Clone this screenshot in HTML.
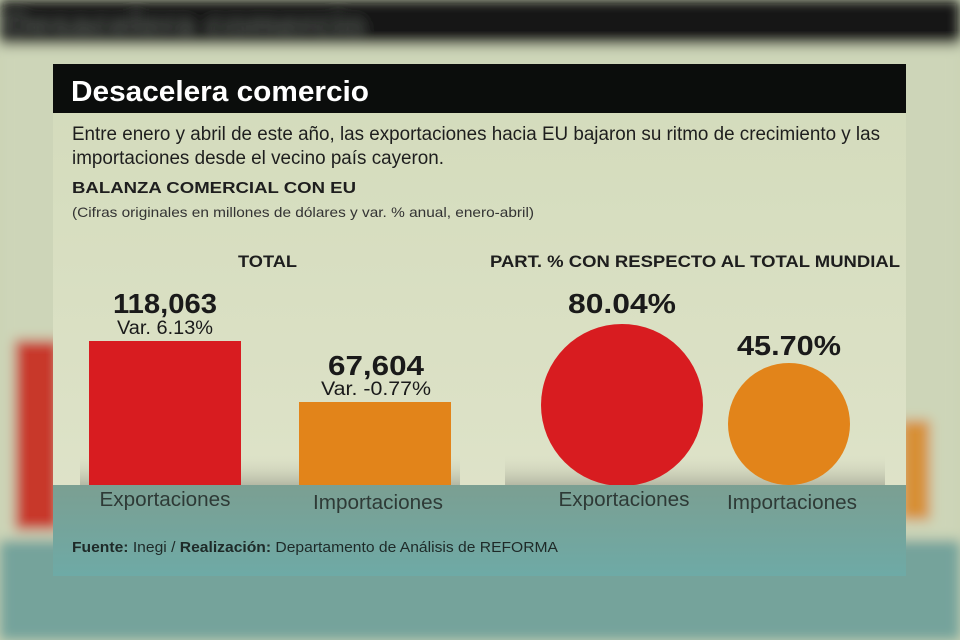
<!DOCTYPE html>
<html><head><meta charset="utf-8"><style>
html,body{margin:0;padding:0;width:960px;height:640px;overflow:hidden;background:#c9d2b4}
svg{position:absolute;left:0;top:0;overflow:hidden;display:block}
text{font-family:"Liberation Sans",sans-serif}
</style></head><body>
<svg width="960" height="640" viewBox="0 0 960 640">
<defs>
<filter id="b" x="0" y="0" width="960" height="640" filterUnits="userSpaceOnUse"><feGaussianBlur stdDeviation="6" edgeMode="duplicate"/></filter>
<linearGradient id="g" x1="0" y1="0" x2="0" y2="1">
<stop offset="0" stop-color="#d3dbbb"/><stop offset="1" stop-color="#e0e4cb"/>
</linearGradient>
<linearGradient id="t" x1="0" y1="0" x2="0" y2="1">
<stop offset="0" stop-color="#7b9f92"/><stop offset="1" stop-color="#6eaaa6"/>
</linearGradient>
<linearGradient id="s" x1="0" y1="0" x2="0" y2="1">
<stop offset="0" stop-color="#d8dcc2" stop-opacity="0"/><stop offset="1" stop-color="#b4b8a4"/>
</linearGradient>
</defs>
<g filter="url(#b)">
<rect x="0" y="0" width="960" height="640" fill="#cdd5b8"/>
<rect x="0" y="0" width="960" height="45" fill="#141816"/>
<text x="5" y="38" font-size="36" font-weight="bold" fill="#4a4e48">Desacelera comercio</text>
<rect x="0" y="540" width="960" height="100" fill="#74a39b"/>
<rect x="15" y="340" width="45" height="190" fill="#c8382a"/>
<rect x="900" y="420" width="30" height="100" fill="#d79035"/>
</g>
<rect x="53" y="64" width="853" height="512" fill="url(#g)"/>
<rect x="53" y="64" width="853" height="49" fill="#0b0d0c"/>
<text x="71" y="101" font-size="29" font-weight="bold" fill="#fff" textLength="298" lengthAdjust="spacingAndGlyphs">Desacelera comercio</text>
<text x="72" y="140" font-size="19" fill="#1e1e1e" textLength="808" lengthAdjust="spacingAndGlyphs">Entre enero y abril de este año, las exportaciones hacia EU bajaron su ritmo de crecimiento y las</text>
<text x="72" y="164" font-size="19" fill="#1e1e1e" textLength="372" lengthAdjust="spacingAndGlyphs">importaciones desde el vecino país cayeron.</text>
<text x="72" y="193" font-size="16" font-weight="bold" fill="#1e1e1e" textLength="284" lengthAdjust="spacingAndGlyphs">BALANZA COMERCIAL CON EU</text>
<text x="72" y="217" font-size="14" fill="#333" textLength="462" lengthAdjust="spacingAndGlyphs">(Cifras originales en millones de dólares y var. % anual, enero-abril)</text>
<text x="238" y="267" font-size="17" font-weight="bold" fill="#1e1e1e" textLength="59" lengthAdjust="spacingAndGlyphs">TOTAL</text>
<text x="490" y="267" font-size="17" font-weight="bold" fill="#1e1e1e" textLength="410" lengthAdjust="spacingAndGlyphs">PART. % CON RESPECTO AL TOTAL MUNDIAL</text>
<rect x="80" y="455" width="380" height="30" fill="url(#s)"/>
<rect x="505" y="455" width="380" height="30" fill="url(#s)"/>
<rect x="89" y="341" width="152" height="144" fill="#d81c20"/>
<rect x="299" y="402" width="152" height="83" fill="#e2841a"/>
<circle cx="622" cy="405" r="81" fill="#d81c20"/>
<circle cx="789" cy="424" r="61" fill="#e2841a"/>
<rect x="53" y="485" width="853" height="91" fill="url(#t)"/>
<g font-weight="bold" fill="#1a1a1a" text-anchor="middle">
<text x="165" y="313" font-size="28" textLength="104" lengthAdjust="spacingAndGlyphs">118,063</text>
<text x="376" y="375" font-size="28" textLength="96" lengthAdjust="spacingAndGlyphs">67,604</text>
<text x="622" y="313" font-size="28" textLength="108" lengthAdjust="spacingAndGlyphs">80.04%</text>
<text x="789" y="355" font-size="28" textLength="104" lengthAdjust="spacingAndGlyphs">45.70%</text>
</g>
<g fill="#1a1a1a" text-anchor="middle" font-size="19">
<text x="165" y="334" textLength="96" lengthAdjust="spacingAndGlyphs">Var. 6.13%</text>
<text x="376" y="395" textLength="110" lengthAdjust="spacingAndGlyphs">Var. -0.77%</text>
</g>
<g fill="#2e3a36" text-anchor="middle" font-size="20">
<text x="165" y="506" textLength="131" lengthAdjust="spacingAndGlyphs">Exportaciones</text>
<text x="378" y="509" textLength="130" lengthAdjust="spacingAndGlyphs">Importaciones</text>
<text x="624" y="506" textLength="131" lengthAdjust="spacingAndGlyphs">Exportaciones</text>
<text x="792" y="509" textLength="130" lengthAdjust="spacingAndGlyphs">Importaciones</text>
</g>
<text x="72" y="552" font-size="15" fill="#1e2a28" textLength="486" lengthAdjust="spacingAndGlyphs"><tspan font-weight="bold">Fuente:</tspan> Inegi / <tspan font-weight="bold">Realización:</tspan> Departamento de Análisis de REFORMA</text>
</svg>
</body></html>
